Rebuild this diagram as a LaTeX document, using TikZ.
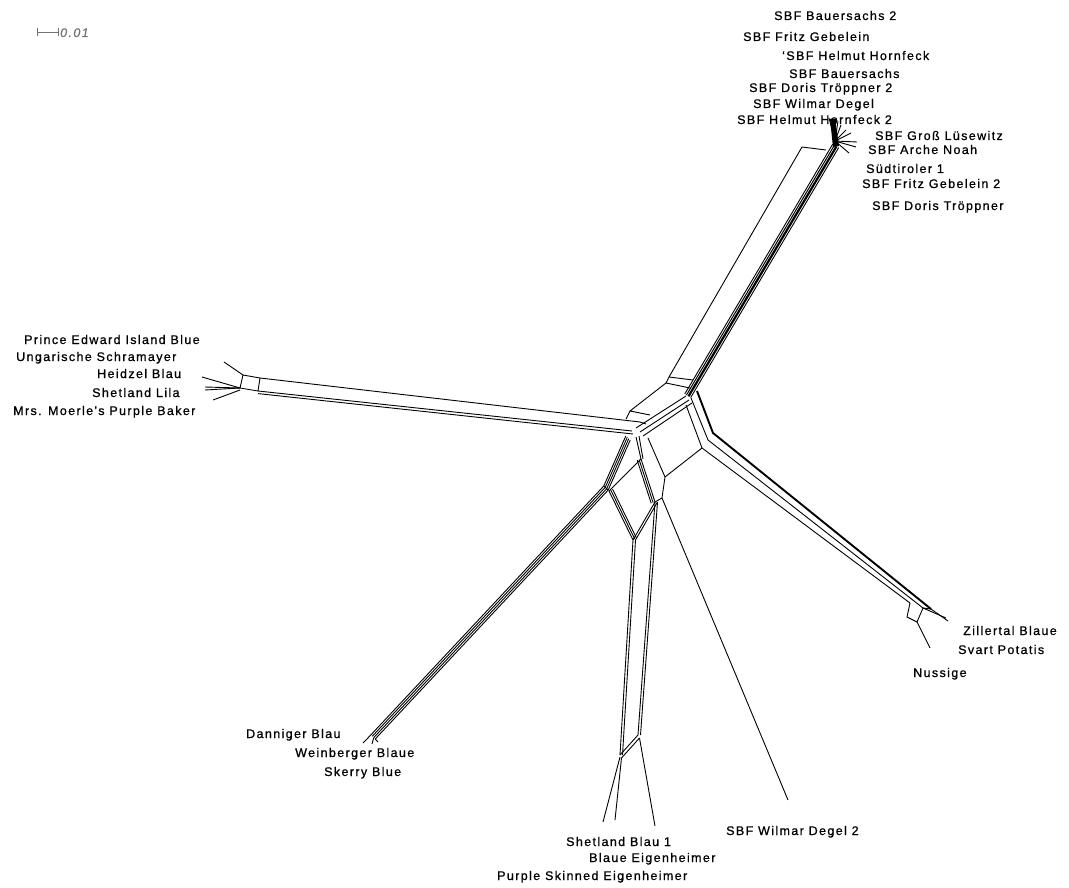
\documentclass[tikz,border=0pt]{standalone}
\usepackage{fontspec}
\setmainfont{Liberation Sans}
\newfontfamily\lblfamily[LetterSpace=11,FakeBold=0.8]{Liberation Sans}
\newcommand\lblfont{\lblfamily\fontsize{12.5}{15}\selectfont}
\begin{document}
\begin{tikzpicture}[x=1pt,y=-1pt,
  lbl/.style={anchor=base west, inner sep=0pt, font=\lblfont},
  ln/.style={line width=0.9pt, line join=round},
  thk/.style={line width=1.9pt, line join=round}]
\useasboundingbox (0,0) rectangle (1069,888);

% ---------- scale bar ----------
\coordinate (sb1) at (37,32);
\coordinate (sb2) at (58,32);
\draw[black!55, line width=0.9pt] ([yshift=4]sb1) -- ([yshift=-4]sb1) (sb1) -- (sb2) ([yshift=4]sb2) -- ([yshift=-4]sb2);
\node[lbl, text=black!55, font=\lblfont\itshape] (sbl) at (60,37) {0.01};

% ---------- NE bundle ----------
\coordinate (NEb) at (688,396);
\coordinate (NEt) at (836,146);
\foreach \d/\w in {-3.8/0.9,-1.8/1.0,0.6/2.2,3.1/0.9}
  \draw[line width=\w pt] ([shift={(0.86*\d,0.51*\d)}]NEb) -- ([shift={(0.86*\d,0.51*\d)}]NEt);
\coordinate (NEk) at (835,141);
\foreach \x/\y in {829/118,832/118,835/119,838/121,841/125,846/130,851/133,857/142,856/147,849/153}
  \draw[ln] (NEk) -- (\x,\y);
\fill (830,119) -- (835,119) -- (839,146) -- (833,147) -- cycle;

% thin NE parallelogram
\coordinate (Pt) at (802,147);
\coordinate (Pr) at (826,150);
\coordinate (Pb) at (669,377);
\coordinate (Pb2) at (666,383);
\coordinate (Pc) at (693,380);
\coordinate (Pc2) at (690,388);
\draw[ln] (Pr) -- (Pt) -- (Pb) -- (Pc);
\draw[ln] (Pb) -- (Pb2) -- (Pc2);
\coordinate (C1) at (630,411);
\coordinate (C1r) at (650,415);
\coordinate (C1d) at (626,419);
\draw[ln] (Pb2) -- (C1) -- (C1r);
\draw[ln] (C1) -- (C1d);

% ---------- W bundle ----------
\coordinate (WB1) at (243,375);
\coordinate (WB2) at (260,378);
\coordinate (WB3) at (258,391);
\coordinate (WB4) at (240,388);
\draw[ln] (WB4) -- (WB1) -- (WB2) -- (WB3) -- cycle;
\coordinate (Wt) at (640,422);
\coordinate (Wb1) at (632,431);
\coordinate (Wb2) at (633,434);
\draw[ln] (WB2) -- (Wt);
\draw[ln] (WB3) -- (Wb1);
\draw[ln] ([yshift=-2.6]WB3) -- (Wb2);
\draw[ln] (WB1) -- (224,362);
\draw[ln] (WB4) -- (202,377);
\draw[ln] (WB4) -- (205,387);
\draw[ln] (WB4) -- (205,390);
\draw[ln] ([yshift=-2]WB4) -- (213,400);

% ---------- centre links ----------
\draw[ln] (636,428) -- (686,396);
\draw[ln] (640,432) -- (689,400);
\draw[ln] (643,436) -- (692,403);
\draw[ln] (Wt) -- (646,424);

% ---------- SE bundle ----------
\coordinate (SEa) at (697,391);
\coordinate (SEb) at (713,433);
\coordinate (SEc) at (931,609);
\coordinate (SEd) at (691,398);
\coordinate (SEe) at (708,440);
\coordinate (SEf) at (923,608);
\coordinate (SEg) at (686,405);
\coordinate (SEh) at (702,448);
\coordinate (SEi) at (910,603);
\coordinate (SEj) at (907,617);
\coordinate (SEk) at (917,622);
\draw[thk] (SEa) -- (SEb) -- (SEc);
\draw[ln] (SEd) -- (SEe) -- (SEf);
\draw[ln] (SEg) -- (SEh) -- (SEi);
\draw[ln] (SEi) -- (SEj) -- (SEk) -- (SEf) -- (SEc);
\draw[ln] (SEc) -- (948,621);
\draw[ln] (SEf) -- (946,618);
\draw[ln] (SEk) -- (930,648);

% ---------- SW bundle ----------
\coordinate (SWa) at (628,438);
\coordinate (SWm) at (606,488);
\coordinate (SWt) at (373,737);
\foreach \d in {-3,-1,1,3}
  \draw[ln] ([shift={(0.727*\d,0.686*\d)}]SWa) -- ([shift={(0.727*\d,0.686*\d)}]SWm) -- ([shift={(0.727*\d,0.686*\d)}]SWt);
\draw[ln] ([shift={(-2.2,-2)}]SWt) -- (363,743);
\draw[ln] ([shift={(0.7,0.7)}]SWt) -- (372,744);
\draw[ln] ([shift={(2.2,2)}]SWt) -- (378,742);
\draw[ln] ([shift={(-2.2,-2)}]SWm) -- ([shift={(2.2,2)}]SWm);

% ---------- S parallelogram ----------
\coordinate (Qt) at (641,459);
\coordinate (Ql) at (609,491);
\coordinate (Qb) at (633,540);
\coordinate (Qr) at (655,502);
\foreach \d in {0,2,4}
  \draw[ln] ([shift={(0.89*\d,-0.45*\d)}]Ql) -- ([shift={(0.89*\d,-0.45*\d)}]Qb);
\foreach \d in {0,2,4}
  \draw[ln] ([shift={(-0.95*\d,0.31*\d)}]Qt) -- ([shift={(-0.95*\d,0.31*\d)}]Qr);
\draw[ln] (Qb) -- (Qr);
\draw[ln] ([xshift=2.5]Qb) -- ([xshift=2.5]Qr);
\draw[ln] (Qt) -- (Ql);
\draw[ln] (636,437) -- (Qt);
\draw[ln] (639,436) -- ([xshift=2]Qt);

% S double lines
\coordinate (Sl) at (620,755);
\coordinate (Sr) at (638,735);
\draw[ln] (Qb) -- (Sl);
\draw[ln] ([xshift=2.5]Qb) -- ([xshift=2.5]Sl);
\draw[ln] (Qr) -- (Sr);
\draw[ln] ([xshift=2.5]Qr) -- ([xshift=2.5]Sr);
\draw[ln] (Sl) -- (Sr);
\draw[ln] ([shift={(1.5,3)}]Sl) -- ([shift={(1.5,3)}]Sr);
\draw[ln] ([shift={(0,2)}]Sl) -- (603,822);
\draw[ln] ([shift={(1.5,3)}]Sl) -- (615,820);
\draw[ln] ([shift={(1.5,3)}]Sr) -- (655,826);

% Wilmar Degel 2 line
\coordinate (Sa) at (648,438);
\coordinate (Sb) at (665,477);
\coordinate (Sc) at (662,498);
\coordinate (Wil) at (788,800);
\draw[ln] (Sa) -- (Sb) -- (Sc) -- (Wil);
\draw[ln] (Sc) -- (Qr);
\draw[ln] (Sb) -- (SEh);

% ---------- labels ----------
\node[lbl] (l1) at (774,20) {SBF Bauersachs 2};
\node[lbl] (l2) at (743,41) {SBF Fritz Gebelein};
\node[lbl] (l3) at (782,60) {‘SBF Helmut Hornfeck};
\node[lbl] (l4) at (789,78) {SBF Bauersachs};
\node[lbl] (l5) at (749,92) {SBF Doris Tröppner 2};
\node[lbl] (l6) at (753,108) {SBF Wilmar Degel};
\node[lbl] (l7) at (737,124) {SBF Helmut Hornfeck 2};
\node[lbl] (l8) at (875,140) {SBF Groß Lüsewitz};
\node[lbl] (l9) at (868,154) {SBF Arche Noah};
\node[lbl] (l10) at (866,173) {Südtiroler 1};
\node[lbl] (l11) at (862,188) {SBF Fritz Gebelein 2};
\node[lbl] (l12) at (872,210) {SBF Doris Tröppner};
\node[lbl] (l13) at (24,344) {Prince Edward Island Blue};
\node[lbl] (l14) at (16,361) {Ungarische Schramayer};
\node[lbl] (l15) at (97,378) {Heidzel Blau};
\node[lbl] (l16) at (92,397) {Shetland Lila};
\node[lbl] (l17) at (13,415) {Mrs. Moerle's Purple Baker};
\node[lbl] (l18) at (246,738) {Danniger Blau};
\node[lbl] (l19) at (295,757) {Weinberger Blaue};
\node[lbl] (l20) at (324,776) {Skerry Blue};
\node[lbl] (l21) at (566,846) {Shetland Blau 1};
\node[lbl] (l22) at (589,862) {Blaue Eigenheimer};
\node[lbl] (l23) at (497,880) {Purple Skinned Eigenheimer};
\node[lbl] (l24) at (726,835) {SBF Wilmar Degel 2};
\node[lbl] (l25) at (963,635) {Zillertal Blaue};
\node[lbl] (l26) at (958,654) {Svart Potatis};
\node[lbl] (l27) at (913,677) {Nussige};
\end{tikzpicture}
\end{document}
